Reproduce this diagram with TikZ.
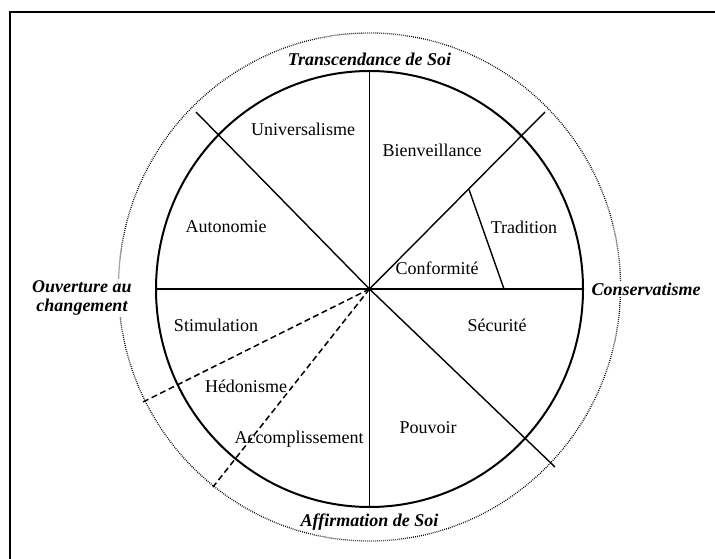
\documentclass[tikz,border=0pt]{standalone}
\usepackage{fontspec}
\setmainfont{Liberation Serif}
\begin{document}
\begin{tikzpicture}[x=1pt,y=-1pt,
  lab/.style={font=\fontsize{18}{20}\selectfont, inner sep=0pt},
  pole/.style={font=\fontsize{18}{19}\selectfont\bfseries\itshape, inner sep=1.5pt, fill=white, align=center},
  radial/.style={line width=1.4pt},
  axisline/.style={line width=2pt},
  dsh/.style={line width=1.5pt, dash pattern=on 6pt off 3.5pt},
  dots/.style={line width=1.3pt, dash pattern=on 0.8pt off 1.2pt}]
\useasboundingbox (0,0) rectangle (715,559);
\draw[line width=2pt] (10,559) -- (10,12) -- (715,12);
\coordinate (O) at (369.5,289);
\coordinate (O2) at (369.5,287);
% outer dotted ring
\draw[dots] (O2) ellipse [x radius=251, y radius=254];
% end points
\coordinate (T) at (369.5,71);
\coordinate (B) at (369.5,507);
\coordinate (L) at (156,289);
\coordinate (R) at (583,289);
\coordinate (NW) at (196,112);
\coordinate (NE) at (545,112);
\coordinate (SE) at (555,467);
\coordinate (D1) at (143,402);
\coordinate (D2) at (213,487);
\coordinate (K1) at (469,189.5);
\coordinate (K2) at (504,289);
% radial lines
\draw[radial] (T) -- (B);
\draw[axisline] (L) -- (R);
\draw[radial] (O) -- (NW);
\draw[radial] (O) -- (NE);
\draw[radial] (O) -- (SE);
\draw[radial] (K1) -- (K2);
\draw[dsh] (O) -- (D1);
\draw[dsh] (O) -- (D2);
\fill (O) circle (2.2pt);
% main circle
\draw[line width=2pt] (O) ellipse [x radius=213.5, y radius=218];
% labels
\node[lab] (uni) at (303,129) {Universalisme};
\node[lab] (bie) at (432,150) {Bienveillance};
\node[lab] (aut) at (226,227) {Autonomie};
\node[lab] (tra) at (524,227) {Tradition};
\node[lab] (con) at (437,268) {Conformité};
\node[lab] (sec) at (497,325) {Sécurité};
\node[lab] (sti) at (216,325) {Stimulation};
\node[lab] (hed) at (246,386) {Hédonisme};
\node[lab] (acc) at (299,439) {Accomplissement};
\node[lab] (pou) at (428,428) {Pouvoir};
% poles
\node[pole, fill=none] (trs) at (369.5,59) {Transcendance de Soi};
\node[pole, fill=none] (aff) at (369.5,522) {Affirmation de Soi};
\node[pole] (ouv) at (82,298) {Ouverture au\\changement};
\node[pole] (cns) at (646,289) {Conservatisme};
\end{tikzpicture}
\end{document}
